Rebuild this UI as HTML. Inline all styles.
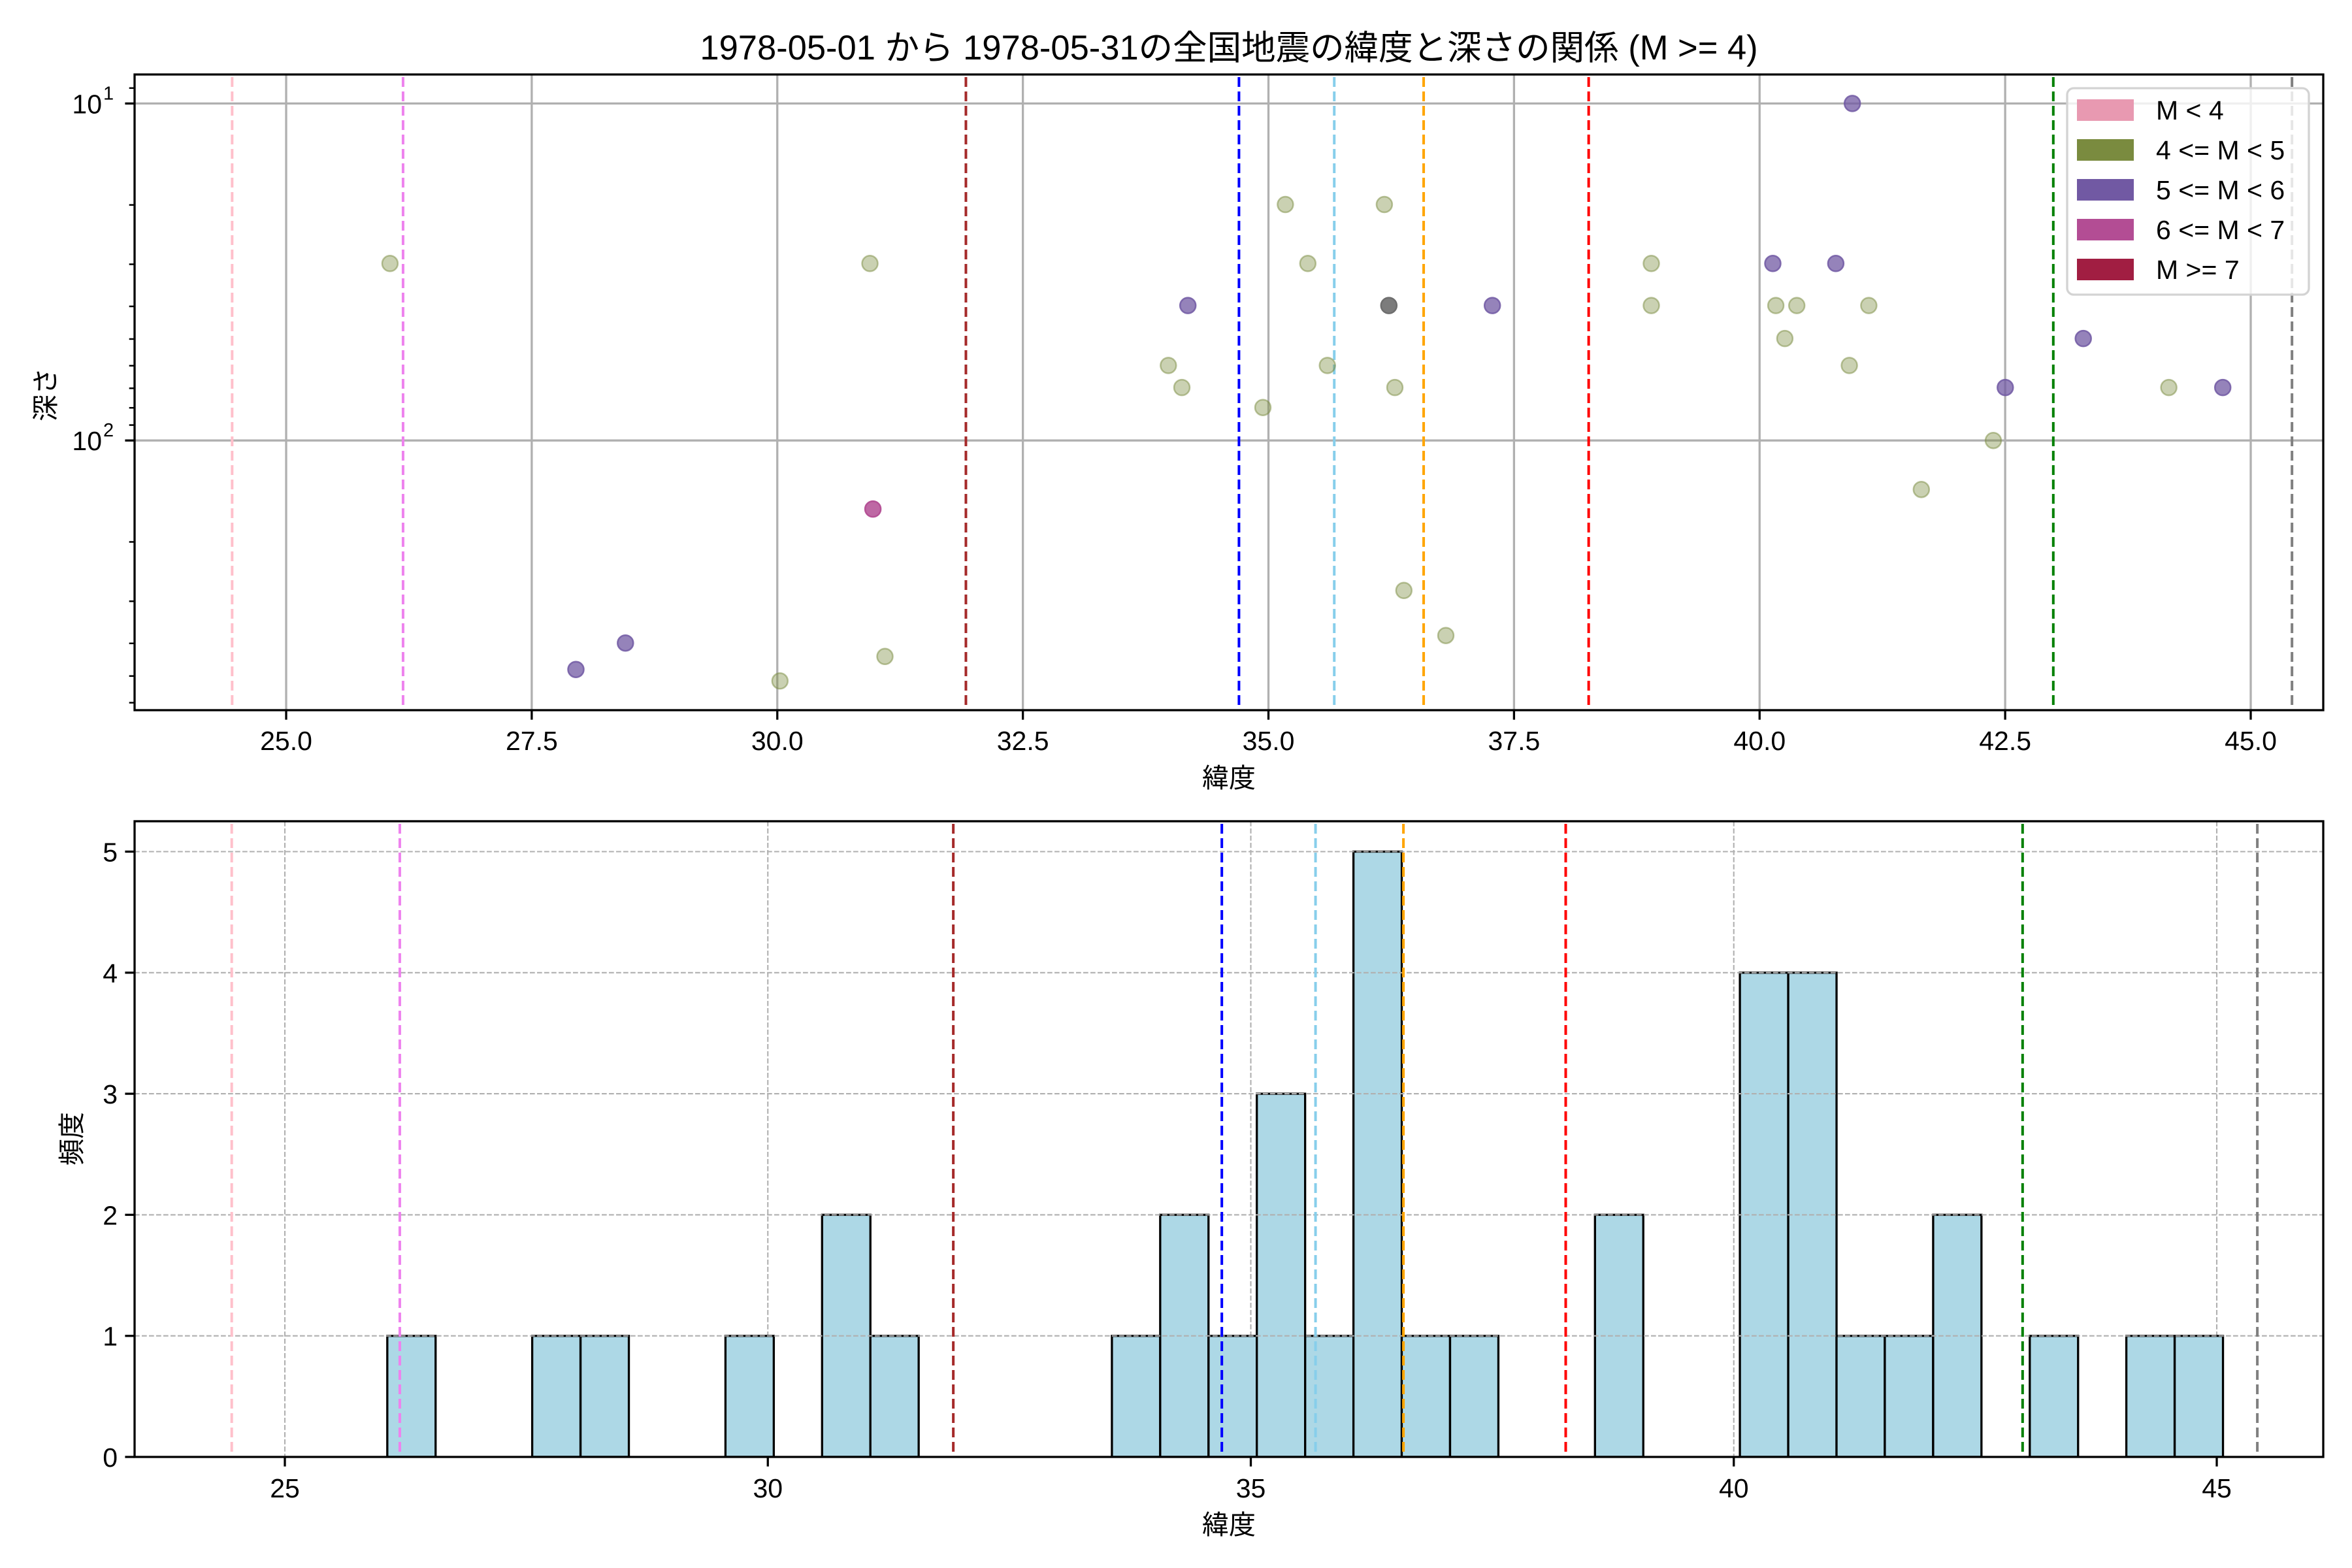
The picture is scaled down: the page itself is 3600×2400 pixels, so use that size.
<!DOCTYPE html>
<html><head><meta charset="utf-8">
<style>html,body{margin:0;padding:0;background:#fff}svg{display:block}</style>
</head><body>
<svg id="s" width="3600" height="2400" xmlns="http://www.w3.org/2000/svg" font-family="Liberation Sans, Noto Sans CJK JP, sans-serif"></svg>
<script>
const S=document.getElementById('s');let h='';
const L=206,R=3556,T1=114,B1=1087,T2=1257,B2=2230;
const xt=l=>438+(l-25)*150.35, xb=l=>436+(l-25)*147.85;
const yd=d=>158.4+(Math.log10(d)-1)*515.8, yc=c=>2230-c*185.3;
h+=`<rect width="3600" height="2400" fill="#fff"/>`;
h+=`<text x="1881" y="91" font-size="52.5" text-anchor="middle">1978-05-01 から 1978-05-31の全国地震の緯度と深さの関係 (M &gt;= 4)</text>`;
h+=`<defs><clipPath id="c1"><rect x="${L}" y="${T1}" width="${R-L}" height="${B1-T1}"/></clipPath><clipPath id="c2"><rect x="${L}" y="${T2}" width="${R-L}" height="${B2-T2}"/></clipPath></defs>`;
let g='';
for(let v=25;v<=45.01;v+=2.5){let x=xt(v);g+=`<line x1="${x}" y1="${T1}" x2="${x}" y2="${B1}" stroke="#b0b0b0" stroke-width="3.3"/>`;}
[10,100].forEach(d=>{g+=`<line x1="${L}" y1="${yd(d)}" x2="${R}" y2="${yd(d)}" stroke="#b0b0b0" stroke-width="3.3"/>`;});
const vl=[[24.45,'pink'],[26.19,'violet'],[31.92,'brown'],[34.70,'blue'],[35.67,'skyblue'],[36.58,'orange'],[38.26,'red'],[42.99,'green'],[45.42,'gray']];
vl.forEach(([l,c])=>{let x=xt(l);g+=`<line x1="${x}" y1="${T1+4}" x2="${x}" y2="${B1}" stroke="${c}" stroke-width="4" stroke-dasharray="15 7"/>`;});
const pts=[[260,527,'g'],[580,527,'g'],[1235,207,'p'],[857,409,'g'],[923,409,'g'],[872,527,'g'],[1101,527,'g'],[1182,527,'p'],[1224,527,'p'],[792,611,'p'],[995,611,'p'],[1101,611,'g'],[1184,611,'g'],[1198,611,'g'],[1246,611,'g'],[1190,677,'g'],[1389,677,'p'],[779,731,'g'],[885,731,'g'],[1233,731,'g'],[788,775,'g'],[930,775,'g'],[1337,775,'p'],[1446,775,'g'],[1482,775,'p'],[842,815,'g'],[1329,881,'g'],[1281,979,'g'],[582,1018,'m'],[936,1181,'g'],[964,1271,'g'],[417,1286,'p'],[384,1339,'p'],[590,1313,'g'],[520,1362,'g'],[926,611,'k']];
const col={g:['#7a8b3f',0.4],p:['#7159a3',0.75],m:['#b34d94',0.85],k:['#6e6e6e',0.9]};
pts.forEach(([x,y,c])=>{let X=x/0.4356,Y=y/1.3067;let [cc,a]=col[c];g+=`<circle cx="${X.toFixed(1)}" cy="${Y.toFixed(1)}" r="12" fill="${cc}" fill-opacity="${a}" stroke="${cc}" stroke-opacity="${Math.min(1,a+0.1)}" stroke-width="2.5"/>`;});
h+=`<g clip-path="url(#c1)">${g}</g>`;
h+=`<rect x="${L}" y="${T1}" width="${R-L}" height="${B1-T1}" fill="none" stroke="#000" stroke-width="3.3"/>`;
for(let v=25;v<=45.01;v+=2.5){let x=xt(v);h+=`<line x1="${x}" y1="${B1}" x2="${x}" y2="${B1+14.6}" stroke="#000" stroke-width="3.3"/><text x="${x}" y="${B1+61}" font-size="41" text-anchor="middle">${v.toFixed(1)}</text>`;}
[10,100].forEach((d,i)=>{let y=yd(d);h+=`<line x1="${L-14.6}" y1="${y}" x2="${L}" y2="${y}" stroke="#000" stroke-width="3.3"/><text x="${L-50}" y="${y+15}" font-size="41" text-anchor="end">10</text><text x="${L-48}" y="${y-6}" font-size="29">${i+1}</text>`;});
[9,20,30,40,50,60,70,80,90,200,300,400,500,600].forEach(d=>{let y=yd(d);h+=`<line x1="${L-8.3}" y1="${y}" x2="${L}" y2="${y}" stroke="#000" stroke-width="2.5"/>`;});
h+=`<text x="1881" y="1205" font-size="41" text-anchor="middle">緯度</text>`;
h+=`<text transform="translate(84,604) rotate(-90)" font-size="41" text-anchor="middle">深さ</text>`;
h+=`<rect x="3164" y="135" width="370" height="316" rx="10" fill="#fff" fill-opacity="0.8" stroke="#d3d3d3" stroke-width="3.3"/>`;
[['#e899b1','M &lt; 4'],['#7a8b3f','4 &lt;= M &lt; 5'],['#7159a3','5 &lt;= M &lt; 6'],['#b34d94','6 &lt;= M &lt; 7'],['#a11e42','M &gt;= 7']].forEach(([c,t],i)=>{let y=168+i*61;h+=`<rect x="3179" y="${y-16}" width="87" height="33" fill="${c}"/><text x="3300" y="${y+15}" font-size="41">${t}</text>`;});
let b='';
for(let v=25;v<=45;v+=5){let x=xb(v);b+=`<line x1="${x}" y1="${T2}" x2="${x}" y2="${B2}" stroke="#b0b0b0" stroke-width="2.1" stroke-dasharray="7.7 3.3"/>`;}
const bars={0:1,3:1,4:1,7:1,9:2,10:1,15:1,16:2,17:1,18:3,19:1,20:5,21:1,22:1,25:2,28:4,29:4,30:1,31:1,32:2,34:1,36:1,37:1};
const e0=592.8,bw=73.94;
for(const k in bars){let x=e0+k*bw,y=yc(bars[k]);b+=`<rect x="${x.toFixed(1)}" y="${y}" width="${bw.toFixed(2)}" height="${B2-y}" fill="#add8e6" stroke="#000" stroke-width="3.3"/>`;}
for(let c=0;c<=5;c++){let y=yc(c);b+=`<line x1="${L}" y1="${y}" x2="${R}" y2="${y}" stroke="#b0b0b0" stroke-width="2.1" stroke-dasharray="7.7 3.3"/>`;}
vl.forEach(([l,c])=>{let x=xb(l);b+=`<line x1="${x}" y1="${T2+4}" x2="${x}" y2="${B2}" stroke="${c}" stroke-width="4" stroke-dasharray="15 7"/>`;});
h+=`<g clip-path="url(#c2)">${b}</g>`;
h+=`<rect x="${L}" y="${T2}" width="${R-L}" height="${B2-T2}" fill="none" stroke="#000" stroke-width="3.3"/>`;
for(let v=25;v<=45;v+=5){let x=xb(v);h+=`<line x1="${x}" y1="${B2}" x2="${x}" y2="${B2+14.6}" stroke="#000" stroke-width="3.3"/><text x="${x}" y="${B2+62}" font-size="41" text-anchor="middle">${v}</text>`;}
for(let c=0;c<=5;c++){let y=yc(c);h+=`<line x1="${L-14.6}" y1="${y}" x2="${L}" y2="${y}" stroke="#000" stroke-width="3.3"/><text x="${L-26}" y="${y+15}" font-size="41" text-anchor="end">${c}</text>`;}
h+=`<text x="1881" y="2348" font-size="41" text-anchor="middle">緯度</text>`;
h+=`<text transform="translate(124,1743) rotate(-90)" font-size="41" text-anchor="middle">頻度</text>`;
S.innerHTML=h;
</script>
</body></html>
